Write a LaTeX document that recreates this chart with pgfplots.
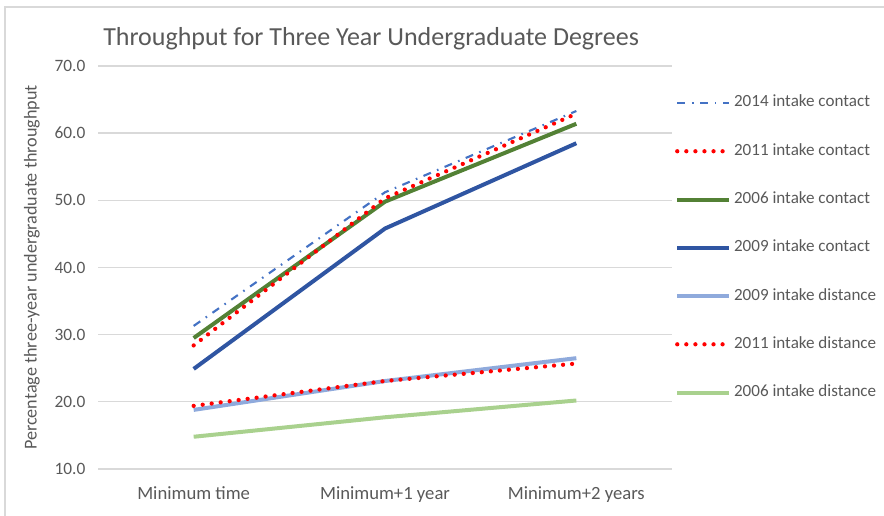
\documentclass[border=0pt]{standalone}
\usepackage{fontspec}
\setmainfont{Carlito}
\usepackage{pgfplots}
\pgfplotsset{compat=1.18}
\definecolor{txt}{HTML}{595959}
\definecolor{gridc}{HTML}{D9D9D9}
\definecolor{cdash}{HTML}{4472C4}
\definecolor{cred}{HTML}{FF0000}
\definecolor{cgreen}{HTML}{538135}
\definecolor{cblue}{HTML}{2F55A2}
\definecolor{clblue}{HTML}{8FAADC}
\definecolor{clgreen}{HTML}{A9D18E}
\tikzset{
  dashdotS/.style={cdash, line width=1.6pt, dash pattern=on 6pt off 5pt on 1.2pt off 5pt},
  dotS/.style={cred, line width=3.2pt, line cap=round, dash pattern=on 0pt off 6.8pt},
  solidS/.style={line width=3pt},
}
\begin{document}
\begin{tikzpicture}
\path[use as bounding box] (0,0) rectangle (663pt,387pt);
\draw[gridc, line width=1.2pt] (3.75pt,0) -- (3.75pt,381.75pt) -- (663pt,381.75pt);
\node[anchor=west, text=txt, font=\fontsize{19.5}{23}\selectfont, inner sep=0pt] at (77.25pt,358pt) {Throughput for Three Year Undergraduate Degrees};
\begin{axis}[
  at={(73.5pt,35.25pt)}, anchor=south west,
  scale only axis, width=430.5pt, height=302.25pt,
  xmin=-0.5, xmax=2.5, ymin=10, ymax=70,
  ytick={10,20,30,40,50,60,70},
  xtick={0,1,2},
  xticklabels={Minimum time, Minimum+1 year, Minimum+2 years},
  axis line style={draw=none},
  major tick length=0pt,
  ymajorgrids, grid style={gridc, line width=1pt},
  tick label style={text=txt, font=\fontsize{13}{15}\selectfont},
  xticklabel style={font=\fontsize{14}{16}\selectfont, yshift=-10pt},
  yticklabel style={/pgf/number format/.cd, fixed, fixed zerofill, precision=1, assume math mode=true, /tikz/.cd, xshift=-6pt},
  ylabel={Percentage three-year undergraduate throughput},
  ylabel style={at={(axis description cs:-0.115,0.5)}, anchor=center, text=txt, font=\fontsize{13.6}{15}\selectfont},
  clip=false,
  legend style={at={(0.998,0.942)}, anchor=north west, draw=none, fill=none,
    font=\fontsize{12.8}{14}\selectfont, text=txt, row sep=20.2pt, column sep=0pt,
    nodes={text height=9pt, text depth=3pt}},
  legend cell align=left,
  legend image code/.code={\draw[#1] (0pt,0pt) -- (39pt,0pt);},
]
\addplot[solidS, clgreen, forget plot] coordinates {(0,14.8) (1,17.7) (2,20.2)};
\addplot[solidS, clblue, forget plot] coordinates {(0,18.8) (1,23.1) (2,26.5)};
\addplot[dotS, forget plot] coordinates {(0,19.4) (1,23.1) (2,25.7)};
\addplot[solidS, cblue, forget plot] coordinates {(0,24.9) (1,45.8) (2,58.5)};
\addplot[solidS, cgreen, forget plot] coordinates {(0,29.5) (1,49.8) (2,61.4)};
\addplot[dotS, forget plot] coordinates {(0,28.4) (1,50.3) (2,62.9)};
\addplot[dashdotS, forget plot] coordinates {(0,31.3) (1,51.2) (2,63.3)};
\addlegendimage{dashdotS}
\addlegendentry{2014 intake contact}
\addlegendimage{dotS}
\addlegendentry{2011 intake contact}
\addlegendimage{solidS, cgreen}
\addlegendentry{2006 intake contact}
\addlegendimage{solidS, cblue}
\addlegendentry{2009 intake contact}
\addlegendimage{solidS, clblue}
\addlegendentry{2009 intake distance}
\addlegendimage{dotS}
\addlegendentry{2011 intake distance}
\addlegendimage{solidS, clgreen}
\addlegendentry{2006 intake distance}
\end{axis}
\end{tikzpicture}
\end{document}
